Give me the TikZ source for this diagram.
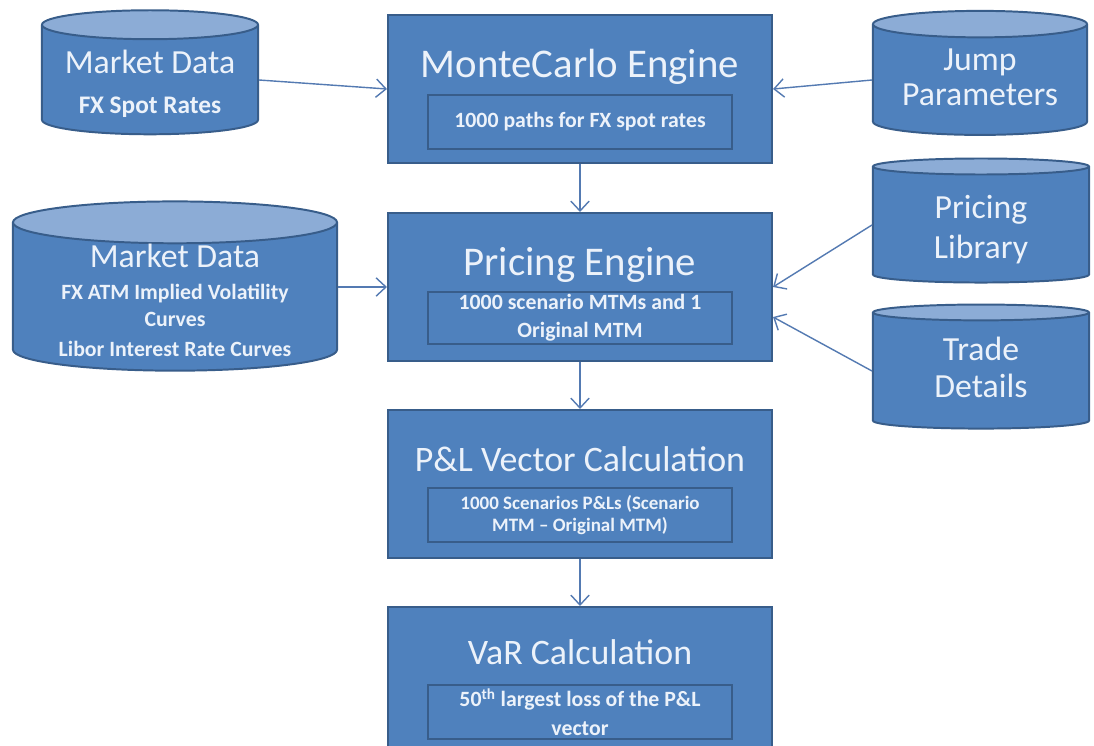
\documentclass[tikz,border=0pt]{standalone}
\usepackage{fontspec}
\setmainfont{Carlito}
\usetikzlibrary{shapes.geometric,calc,arrows.meta}
\definecolor{boxblue}{RGB}{79,129,189}
\definecolor{boxline}{RGB}{56,93,138}
\definecolor{dbtop}{RGB}{140,172,214}
\definecolor{flowblue}{RGB}{84,122,178}
\definecolor{txt}{RGB}{236,242,250}
\newcommand\dbtext[2][0pt]{\raisebox{-#1}[\height][\depth]{\begin{tabular}{@{}c@{}}#2\end{tabular}}}
\newcommand\dbtight[2]{\raisebox{-#1}[\dimexpr\height-8pt][\dimexpr\depth-8pt]{\begin{tabular}{@{}c@{}}#2\end{tabular}}}
\newcommand\dbsub{\bfseries\fontsize{15.5}{20}\selectfont}
\tikzset{
  stage/.style={
      draw=boxline,
      fill=boxblue,
      line width=1.4pt,
      minimum width=9.6cm,
      minimum height=3.7cm
  },
  heading/.style={text=txt, font=\fontsize{29}{34}\selectfont},
  detail/.style={
      draw=boxline,
      fill=boxblue,
      line width=1.4pt,
      minimum width=7.6cm,
      minimum height=1.35cm,
      inner sep=0pt,
      text=txt,
      align=center,
      font=\bfseries\fontsize{15.5}{20}\selectfont
  },
  store/.style={
      cylinder,
      shape border rotate=90,
      draw=boxline,
      line width=1.4pt,
      cylinder uses custom fill,
      cylinder body fill=boxblue,
      cylinder end fill=dbtop,
      aspect=0.17,
      minimum width=5.4cm,
      minimum height=3.1cm,
      inner sep=0pt,
      text=txt,
      font=\fontsize{24}{28}\selectfont
  },
  flow/.style={draw=flowblue, line width=1pt, -{Straight Barb[length=7pt,width=13pt]}}
}

\begin{document}
\begin{tikzpicture}[x=0.025cm,y=-0.025cm]
  \fill[white] (0,0) rectangle (1094,745);
  \useasboundingbox (0,0) rectangle (1094,745);

  \node[store] (spot) at (150,80)
      {\dbtext[4pt]{Market Data\\\bfseries\fontsize{18}{22}\selectfont FX Spot Rates}};
  \node[store, minimum width=5.35cm] (jump) at (980,80)
      {\dbtext{Jump\\[-3pt]Parameters}};
  \node[store, minimum width=8.1cm, minimum height=3.45cm, aspect=0.18] (vols) at (175,297)
      {\dbtight{5pt}{Market Data\\[-5pt]
       \dbsub FX ATM Implied Volatility\\[-9pt]
       \dbsub Curves\\[-7pt]
       \dbsub Libor Interest Rate Curves}};
  \node[store] (lib) at (981,225)
      {\dbtext[4pt]{Pricing\\Library}};
  \node[store] (trade) at (981,371)
      {\dbtext{Trade\\[-2pt]Details}};

  \node[stage] (mc) at (580,89) {};
  \node[heading] (mct) at ($(mc.north)+(0,53)$) {MonteCarlo Engine};
  \node[detail] (mcd) at ($(mc.north)+(0,108)$) {1000 paths for FX spot rates};

  \node[stage] (pe) at (580,287) {};
  \node[heading] (pet) at ($(pe.north)+(0,53)$) {Pricing Engine};
  \node[detail, minimum height=1.3cm] (ped) at ($(pe.north)+(0,106)$) {1000 scenario MTMs and 1\\Original MTM};

  \node[stage] (pnl) at (580,484) {};
  \node[heading, font=\fontsize{25.5}{30}\selectfont] (pnlt) at ($(pnl.north)+(0,50)$) {P\&L Vector Calculation};
  \node[detail, font=\bfseries\fontsize{13.5}{16}\selectfont] (pnld) at ($(pnl.north)+(0,106)$) {1000 Scenarios P\&Ls (Scenario\\MTM -- Original MTM)};

  \node[stage] (var) at (580,681) {};
  \node[heading, font=\fontsize{25.5}{30}\selectfont] (vart) at ($(var.north)+(0,46)$) {VaR Calculation};
  \node[detail] (vard) at ($(var.north)+(0,106)$) {50\textsuperscript{th} largest loss of the P\&L\\vector};

  \draw[flow] (spot.east) -- (mc.west);
  \draw[flow] (jump.west) -- (mc.east);
  \draw[flow] (vols.east |- pe.west) -- (pe.west);
  \draw[flow] (lib.west) -- (pe.east);
  \draw[flow] (trade.west) -- ($(pe.east)+(0,30)$);
  \draw[flow] (mc) -- (pe);
  \draw[flow] (pe) -- (pnl);
  \draw[flow] (pnl) -- (var);
\end{tikzpicture}
\end{document}
